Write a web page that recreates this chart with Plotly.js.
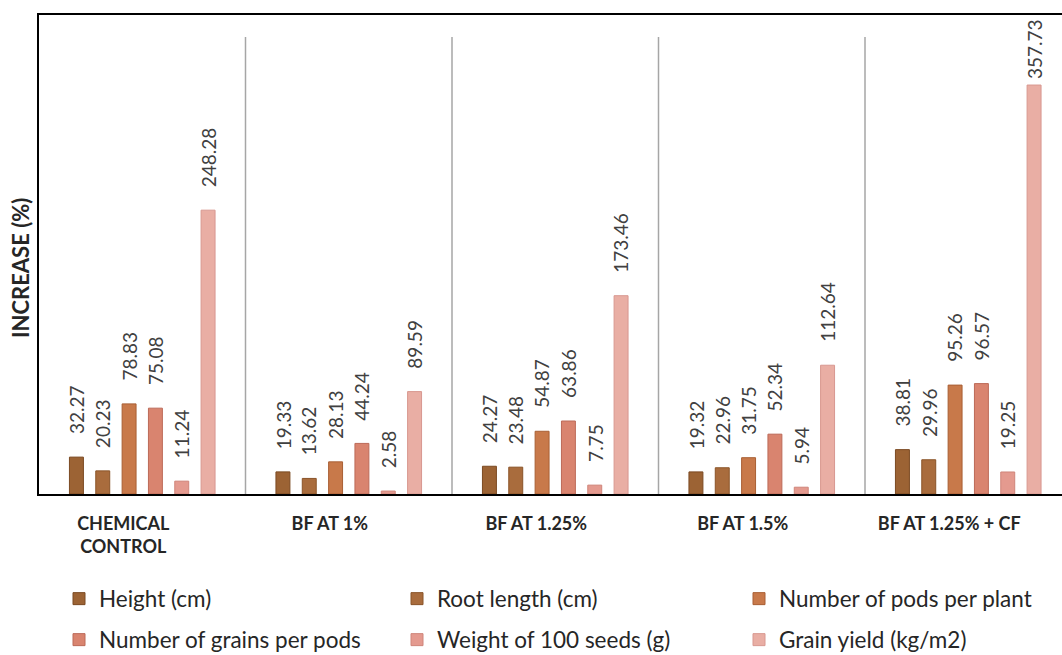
<!DOCTYPE html>
<html>
<head>
<meta charset="utf-8">
<script src="https://cdn.plot.ly/plotly-3.0.1.min.js"></script>
<style>html,body{margin:0;padding:0;background:#fff;}#chart{width:1062px;height:655px;}</style>
</head>
<body>
<div id="chart"></div>
<script>
const categories = ['CHEMICAL<br>CONTROL', 'BF AT 1%', 'BF AT 1.25%', 'BF AT 1.5%', 'BF AT 1.25% + CF'];
const seriesNames = ['Height (cm)', 'Root length (cm)', 'Number of pods per plant', 'Number of grains per pods', 'Weight of 100 seeds (g)', 'Grain yield (kg/m2)'];
const height = [32.27, 19.33, 24.27, 19.32, 38.81];
const rootLength = [20.23, 13.62, 23.48, 22.96, 29.96];
const podsPerPlant = [78.83, 28.13, 54.87, 31.75, 95.26];
const grainsPerPod = [75.08, 44.24, 63.86, 52.34, 96.57];
const weight100 = [11.24, 2.58, 7.75, 5.94, 19.25];
const grainYield = [248.28, 89.59, 173.46, 112.64, 357.73];

const seriesValues = [height, rootLength, podsPerPlant, grainsPerPod, weight100, grainYield];
const fills = ['#9C6334', '#A96C3D', '#C8794A', '#D9846F', '#E49A8F', '#E9AEA4'];
const edges = ['#7B4A22', '#8A5428', '#A85F34', '#BC6A58', '#CF857A', '#D89890'];

const W = 1062, H = 655;
const M = {l: 39, r: 0, t: 15, b: 161};
const plotW = W - M.l - M.r, plotH = H - M.t - M.b;
const YMAX = 419;
const CAT_PX = 206.5;
const BARGAP = 0.235;
const GROUPGAP = 0.47;
const FONT = 'Lato, "Open Sans", sans-serif';
const LABEL_SIZE = 19;
const LABEL_GAP = 21;

// legend layout: 3 columns x 2 rows (legend left px, row centre px)
const legendCols = [59, 397, 739];
const legendRows = [599, 640];

const legendIds = seriesNames.map((_, j) => j === 0 ? 'legend' : 'legend' + (j + 1));

const traces = seriesValues.map((vals, j) => ({
  type: 'bar',
  name: seriesNames[j],
  x: categories,
  y: vals,
  marker: {color: fills[j], line: {color: edges[j], width: 1}},
  legend: legendIds[j],
  hoverinfo: 'skip'
}));

const annotations = [];
const nS = seriesValues.length;
seriesValues.forEach((vals, j) => {
  vals.forEach((v, i) => {
    const txt = v.toFixed(2);
    const barTopPx = (1 - v / YMAX) * plotH;
    const estLen = txt.length * LABEL_SIZE * 0.53;
    const fits = barTopPx - LABEL_GAP - estLen > 3;
    const a = {
      xref: 'x', yref: 'y',
      x: i + (j - (nS - 1) / 2) * (1 - BARGAP) / nS,
      text: txt,
      textangle: -90,
      showarrow: false,
      xanchor: 'center',
      font: {family: FONT, size: LABEL_SIZE, color: '#404040'}
    };
    if (fits) {
      a.y = v; a.yanchor = 'bottom'; a.yshift = LABEL_GAP;
    } else {
      a.y = YMAX; a.yanchor = 'top'; a.yshift = -2;
    }
    annotations.push(a);
  });
});
annotations.push({
  xref: 'paper', yref: 'paper',
  x: (20 - M.l) / plotW, y: (M.t + plotH - 268) / plotH,
  text: 'INCREASE (%)',
  textangle: -90, showarrow: false,
  xanchor: 'center', yanchor: 'middle',
  font: {family: FONT, size: 22, color: '#262626', weight: 'bold'}
});

const shapes = [];
for (let i = 1; i < categories.length; i++) {
  shapes.push({
    type: 'line', xref: 'x', yref: 'paper',
    x0: i - 0.5, x1: i - 0.5, y0: 0, y1: (M.t + plotH - 37) / plotH,
    line: {color: '#A6A6A6', width: 1.5}
  });
}

const layout = {
  width: W, height: H,
  margin: Object.assign({autoexpand: false}, M),
  paper_bgcolor: '#ffffff', plot_bgcolor: '#ffffff',
  barmode: 'group', bargap: BARGAP, bargroupgap: GROUPGAP,
  showlegend: true,
  xaxis: {
    type: 'category',
    range: [-0.5, -0.5 + plotW / CAT_PX],
    showline: true, linecolor: '#000000', linewidth: 2.3, mirror: true,
    showgrid: false, ticks: '', zeroline: false,
    ticklabelstandoff: 12, ticklabelshift: -19,
    tickfont: {family: FONT, size: 18, color: '#262626', weight: 'bold'}
  },
  yaxis: {
    range: [0, YMAX],
    showline: true, linecolor: '#000000', linewidth: 2.3, mirror: false,
    showgrid: false, zeroline: false, showticklabels: false, ticks: ''
  },
  annotations: annotations,
  shapes: shapes
};

legendIds.forEach((id, j) => {
  const col = j % 3, row = Math.floor(j / 3);
  layout[id] = {
    orientation: 'h', xanchor: 'left', yanchor: 'middle',
    x: (legendCols[col] - M.l) / plotW,
    y: (M.t + plotH - legendRows[row]) / plotH,
    font: {family: FONT, size: 22.5, color: '#262626'},
    bgcolor: 'rgba(0,0,0,0)'
  };
});

Plotly.newPlot('chart', traces, layout, {displayModeBar: false, staticPlot: true});
</script>
</body>
</html>
